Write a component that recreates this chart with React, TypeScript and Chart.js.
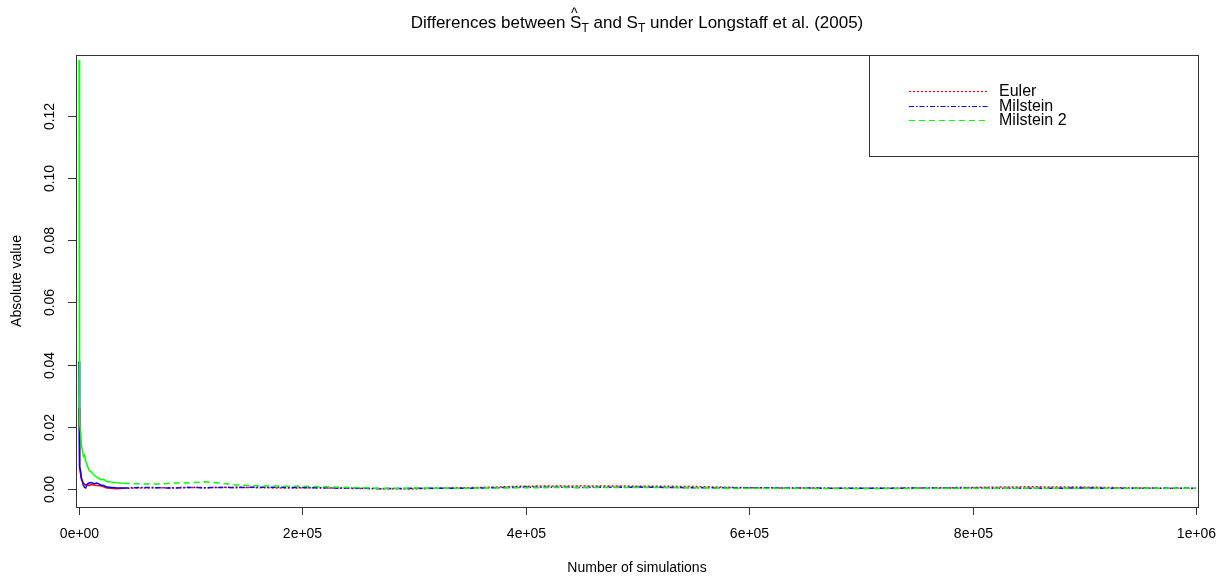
import { useEffect, useRef } from "react";
import { Chart, registerables } from "chart.js";
Chart.register(...registerables);

// number of simulations at which the differences were sampled
const simulations = [
  1, 300, 800, 1500, 2200, 3000, 4000, 5000, 6000, 7500, 9000, 11000, 13400, 16000, 19400,
  22000, 25000, 29000, 33000, 40000, 50000, 60000, 70000, 85000, 100000, 113000, 125000,
  140000, 160000, 185000, 210000, 240000, 270000, 300000, 330000, 360000, 400000, 450000,
  500000, 550000, 600000, 650000, 700000, 750000, 800000, 850000, 900000, 950000, 1000000,
];

const euler = [
  0.026, 0.009, 0.0065, 0.0045, 0.003, 0.0028, 0.0013, 0.0016, 0.0012, 0.0014, 0.0011, 0.0014,
  0.0013, 0.0011, 0.001, 0.0007, 0.0003, 0.0002, 0.0001, 0.0002, 0.0003, 0.0003, 0.0004, 0.0004,
  0.0005, 0.0004, 0.0005, 0.0006, 0.0004, 0.0003, 0.0004, 0.0002, 0.0001, 0.0, 0.0003, 0.0005,
  0.0009, 0.001, 0.0009, 0.0008, 0.0004, 0.0003, 0.0002, 0.0003, 0.0005, 0.0007, 0.0006, 0.0003,
  0.0002,
];

const milstein = [
  0.041, 0.012, 0.0072, 0.0056, 0.0035, 0.0024, 0.0012, 0.0005, 0.0003, 0.0016, 0.0019, 0.0021,
  0.0017, 0.0019, 0.0013, 0.0011, 0.0006, 0.0005, 0.0004, 0.0003, 0.0004, 0.0005, 0.0004, 0.0003,
  0.0005, 0.0004, 0.0005, 0.0004, 0.0006, 0.0005, 0.0004, 0.0003, 0.0001, 0.0002, 0.0002, 0.0003,
  0.0006, 0.0005, 0.0006, 0.0004, 0.0004, 0.0003, 0.0002, 0.0003, 0.0003, 0.0002, 0.0003, 0.0002,
  0.0002,
];

const milstein2 = [
  0.138, 0.052, 0.021, 0.018, 0.014, 0.0125, 0.0105, 0.011, 0.009, 0.0075, 0.006, 0.0055,
  0.0045, 0.0038, 0.003, 0.0031, 0.0024, 0.0022, 0.002, 0.0018, 0.0017, 0.0016, 0.0016, 0.0019,
  0.002, 0.0023, 0.0019, 0.0013, 0.001, 0.0009, 0.0008, 0.0005, 0.0002, 0.0003, 0.0002, 0.0003,
  0.0004, 0.0005, 0.0005, 0.0004, 0.0002, 0.0002, 0.0001, 0.0002, 0.0002, 0.0002, 0.0002, 0.0002,
  0.0002,
];

const seriesNames = ["Euler", "Milstein", "Milstein 2"];
const xTicks = [0, 200000, 400000, 600000, 800000, 1000000];
const xTickLabels = ["0e+00", "2e+05", "4e+05", "6e+05", "8e+05", "1e+06"];
const yTicks = [0, 0.02, 0.04, 0.06, 0.08, 0.1, 0.12];
const yTickLabels = ["0.00", "0.02", "0.04", "0.06", "0.08", "0.10", "0.12"];

const colors = ["#FF0000", "#0000FF", "#00FF00"];
const dashes = [[2, 2], [5, 2, 1.5, 2], [6, 4]];
const FONT = '"Liberation Sans", Arial, sans-serif';

// R-style box, outward ticks, rotated y labels and legend
const rAxes = {
  id: "rAxes",
  afterDraw(chart: Chart) {
    const { ctx, chartArea: a } = chart;
    const xs = chart.scales.x;
    const ys = chart.scales.y;
    ctx.save();
    ctx.strokeStyle = "#333";
    ctx.lineWidth = 1;
    ctx.strokeRect(a.left + 0.5, a.top + 0.5, a.right - a.left, a.bottom - a.top);

    ctx.fillStyle = "#000";
    ctx.font = `14px ${FONT}`;
    ctx.textAlign = "center";
    ctx.textBaseline = "middle";
    xTicks.forEach((v, i) => {
      const px = Math.round(xs.getPixelForValue(v)) + 0.5;
      ctx.beginPath();
      ctx.moveTo(px, a.bottom);
      ctx.lineTo(px, a.bottom + 8);
      ctx.stroke();
      ctx.fillText(xTickLabels[i], px, a.bottom + 27);
    });
    yTicks.forEach((v, i) => {
      const py = Math.round(ys.getPixelForValue(v)) + 0.5;
      ctx.beginPath();
      ctx.moveTo(a.left, py);
      ctx.lineTo(a.left - 8, py);
      ctx.stroke();
      ctx.save();
      ctx.translate(a.left - 26, py);
      ctx.rotate(-Math.PI / 2);
      ctx.fillText(yTickLabels[i], 0, 0);
      ctx.restore();
    });

    ctx.fillText("Number of simulations", (a.left + a.right) / 2, 568);
    ctx.save();
    ctx.translate(17, (a.top + a.bottom) / 2);
    ctx.rotate(-Math.PI / 2);
    ctx.fillText("Absolute value", 0, 0);
    ctx.restore();

    // legend
    const lx = 869;
    ctx.fillStyle = "#fff";
    ctx.fillRect(lx, a.top, a.right - lx, 101);
    ctx.strokeRect(lx + 0.5, a.top + 0.5, a.right - lx, 101);
    ctx.font = `16px ${FONT}`;
    ctx.textAlign = "left";
    seriesNames.forEach((name, i) => {
      const y = 91 + i * 14.5;
      ctx.save();
      ctx.strokeStyle = colors[i];
      ctx.lineWidth = 1.2;
      ctx.setLineDash(dashes[i]);
      ctx.beginPath();
      ctx.moveTo(909, Math.round(y) + 0.5);
      ctx.lineTo(988, Math.round(y) + 0.5);
      ctx.stroke();
      ctx.restore();
      ctx.fillStyle = "#000";
      ctx.fillText(name, 999, y + 1);
    });
    ctx.restore();
  },
};

export default function App() {
  const ref = useRef<HTMLCanvasElement>(null);
  const chart = useRef<Chart | null>(null);

  useEffect(() => {
    document.body.style.margin = "0";
    if (!ref.current) return;
    if (chart.current) chart.current.destroy();

    const seriesData = [euler, milstein, milstein2];
    chart.current = new Chart(ref.current, {
      type: "line",
      data: {
        datasets: seriesData.map((vals, i) => ({
          label: seriesNames[i],
          data: simulations.map((x, j) => ({ x, y: vals[j] })),
          borderColor: colors[i],
          borderWidth: 1.5,
          pointRadius: 0,
          tension: 0,
          order: 3 - i,
          segment: {
            borderDash: (c: any) => (c.p0.parsed.x < 40000 ? [] : dashes[i]),
          },
        })),
      },
      options: {
        responsive: false,
        animation: false,
        layout: { padding: { left: 76, top: 55, right: 30, bottom: 72 } },
        plugins: { legend: { display: false }, tooltip: { enabled: false } },
        scales: {
          x: { type: "linear", display: false, min: -2700, max: 1001800 },
          y: { type: "linear", display: false, min: -0.0058, max: 0.1396 },
        },
      },
      plugins: [rAxes],
    });

    return () => chart.current?.destroy();
  }, []);

  return (
    <div style={{ position: "relative", width: 1228, height: 579, background: "#fff", fontFamily: FONT }}>
      <div
        style={{
          position: "absolute",
          left: 76,
          width: 1122,
          top: 13,
          textAlign: "center",
          fontSize: 17,
          lineHeight: "20px",
          color: "#000",
        }}
      >
        Differences between{" "}
        <span style={{ position: "relative", display: "inline-block" }}>
          S
          <span style={{ position: "absolute", left: 1, top: -10, fontSize: 14 }}>^</span>
        </span>
        <sub style={{ fontSize: 12 }}>T</sub> and S<sub style={{ fontSize: 12 }}>T</sub> under Longstaff et al. (2005)
      </div>
      <canvas ref={ref} width={1228} height={579} style={{ display: "block" }} />
    </div>
  );
}
